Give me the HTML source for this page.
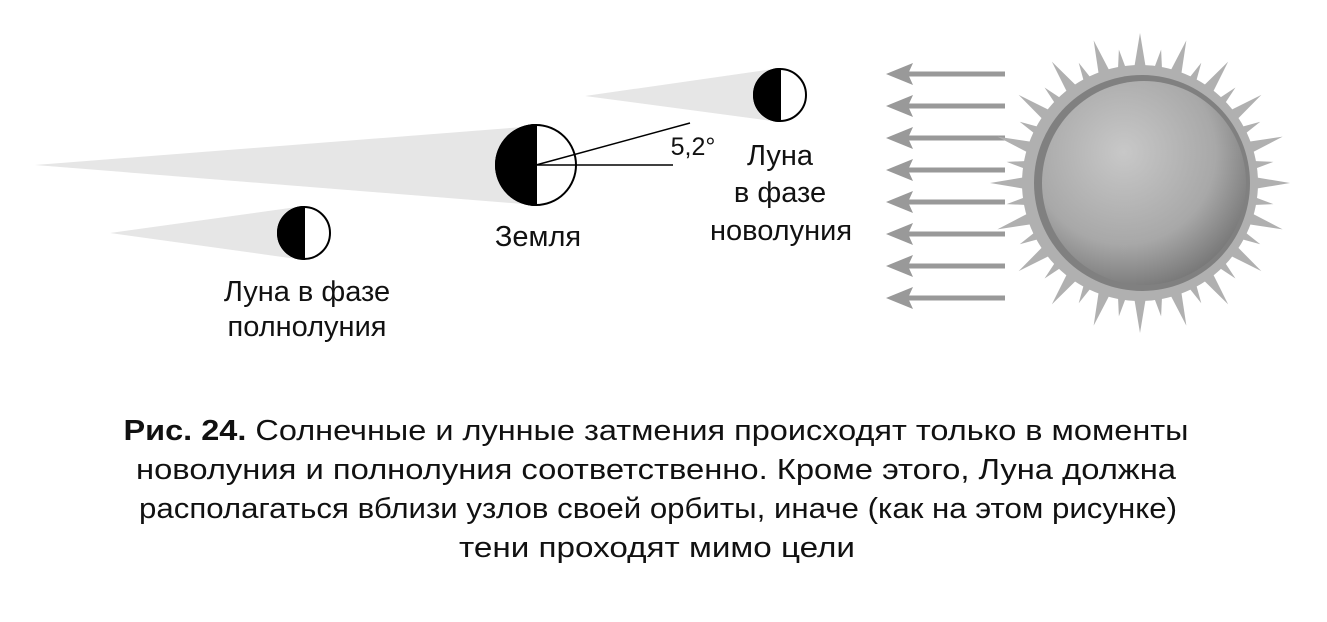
<!DOCTYPE html>
<html><head><meta charset="utf-8"><style>
body{margin:0;width:1327px;height:617px;background:#fff;overflow:hidden;font-family:"Liberation Sans",sans-serif}
</style></head><body>
<svg width="1327" height="617" viewBox="0 0 1327 617" xmlns="http://www.w3.org/2000/svg">
<defs>
<radialGradient id="sg" cx="0.4" cy="0.35" r="0.75">
<stop offset="0" stop-color="#c8c8c8"/><stop offset="0.6" stop-color="#a8a8a8"/><stop offset="1" stop-color="#6a6a6a"/></radialGradient>
<polygon id="r1" points="1236,174 1290,183 1236,192" fill="#b0b0b0"/>
<polygon id="r2" points="1236,175 1275,183 1236,191" fill="#b0b0b0"/>
</defs>
<polygon points="35,165 536,126 536,205" fill="#e6e6e6"/>
<polygon points="585,96 780,68 780,122" fill="#e6e6e6"/>
<polygon points="110,233 304,206 304,260" fill="#e6e6e6"/>
<g stroke="#000" stroke-width="2">
<path d="M536,125 A40,40 0 0 0 536,205 Z" fill="#000"/>
<circle cx="536" cy="165" r="40" fill="none"/>
<path d="M780,69 A26,26 0 0 0 780,121 Z" fill="#000"/>
<circle cx="780" cy="95" r="26" fill="none"/>
<path d="M304,207 A26,26 0 0 0 304,259 Z" fill="#000"/>
<circle cx="304" cy="233" r="26" fill="none"/>
<line x1="536" y1="165" x2="690" y2="123" stroke-width="1.5"/>
<line x1="536" y1="165" x2="673" y2="165" stroke-width="1.5"/>
</g>
<g font-size="29" fill="#111" text-anchor="middle">
<text x="693" y="155" font-size="25">5,2°</text>
<text x="538" y="246">Земля</text>
<text x="780" y="165">Луна</text>
<text x="780" y="202">в фазе</text>
<text x="781" y="240">новолуния</text>
<text x="307" y="301">Луна в фазе</text>
<text x="307" y="336">полнолуния</text>
</g>
<g fill="#999" stroke="#999">
<g id="ar"><line x1="905" y1="74" x2="1005" y2="74" stroke-width="5"/><polygon points="886,74 913,63 908,74 913,85" stroke="none"/></g>
<use href="#ar" y="32"/><use href="#ar" y="64"/><use href="#ar" y="96"/><use href="#ar" y="128"/><use href="#ar" y="160"/><use href="#ar" y="192"/><use href="#ar" y="224"/>
</g>
<g>
<use href="#r1" transform="rotate(0 1140 183)"/><use href="#r2" transform="rotate(9 1140 183)"/>
<use href="#r1" transform="rotate(18 1140 183)"/><use href="#r2" transform="rotate(27 1140 183)"/>
<use href="#r1" transform="rotate(36 1140 183)"/><use href="#r2" transform="rotate(45 1140 183)"/>
<use href="#r1" transform="rotate(54 1140 183)"/><use href="#r2" transform="rotate(63 1140 183)"/>
<use href="#r1" transform="rotate(72 1140 183)"/><use href="#r2" transform="rotate(81 1140 183)"/>
<use href="#r1" transform="rotate(90 1140 183)"/><use href="#r2" transform="rotate(99 1140 183)"/>
<use href="#r1" transform="rotate(108 1140 183)"/><use href="#r2" transform="rotate(117 1140 183)"/>
<use href="#r1" transform="rotate(126 1140 183)"/><use href="#r2" transform="rotate(135 1140 183)"/>
<use href="#r1" transform="rotate(144 1140 183)"/><use href="#r2" transform="rotate(153 1140 183)"/>
<use href="#r1" transform="rotate(162 1140 183)"/><use href="#r2" transform="rotate(171 1140 183)"/>
<use href="#r1" transform="rotate(180 1140 183)"/><use href="#r2" transform="rotate(189 1140 183)"/>
<use href="#r1" transform="rotate(198 1140 183)"/><use href="#r2" transform="rotate(207 1140 183)"/>
<use href="#r1" transform="rotate(216 1140 183)"/><use href="#r2" transform="rotate(225 1140 183)"/>
<use href="#r1" transform="rotate(234 1140 183)"/><use href="#r2" transform="rotate(243 1140 183)"/>
<use href="#r1" transform="rotate(252 1140 183)"/><use href="#r2" transform="rotate(261 1140 183)"/>
<use href="#r1" transform="rotate(270 1140 183)"/><use href="#r2" transform="rotate(279 1140 183)"/>
<use href="#r1" transform="rotate(288 1140 183)"/><use href="#r2" transform="rotate(297 1140 183)"/>
<use href="#r1" transform="rotate(306 1140 183)"/><use href="#r2" transform="rotate(315 1140 183)"/>
<use href="#r1" transform="rotate(324 1140 183)"/><use href="#r2" transform="rotate(333 1140 183)"/>
<use href="#r1" transform="rotate(342 1140 183)"/><use href="#r2" transform="rotate(351 1140 183)"/>
</g>
<circle cx="1140" cy="183" r="118" fill="#b0b0b0"/>
<circle cx="1142" cy="183" r="108" fill="#808080"/>
<circle cx="1144" cy="183" r="102" fill="url(#sg)"/>
<g font-size="29" fill="#111" text-anchor="middle">
<text x="656" y="440" textLength="1065" lengthAdjust="spacingAndGlyphs"><tspan font-weight="bold">Рис. 24.</tspan> Солнечные и лунные затмения происходят только в моменты</text>
<text x="656" y="479" textLength="1040" lengthAdjust="spacingAndGlyphs">новолуния и полнолуния соответственно. Кроме этого, Луна должна</text>
<text x="658" y="518" textLength="1038" lengthAdjust="spacingAndGlyphs">располагаться вблизи узлов своей орбиты, иначе (как на этом рисунке)</text>
<text x="657" y="557" textLength="396" lengthAdjust="spacingAndGlyphs">тени проходят мимо цели</text>
</g>
</svg>
</body></html>
